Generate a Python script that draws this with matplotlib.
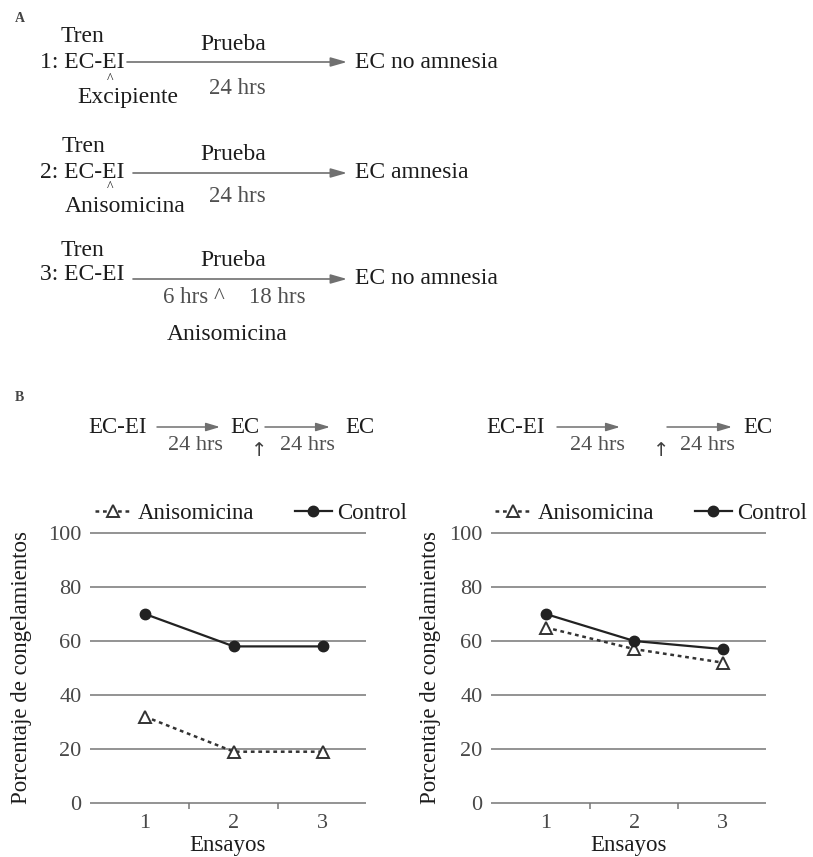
import matplotlib
matplotlib.use('Agg')
import matplotlib.pyplot as plt

W, H = 813, 857
plt.rcParams['font.family'] = ['Liberation Serif', 'DejaVu Serif']

# ---- data ----
trials = [1, 2, 3]
trial_labels = ['1', '2', '3']
y_ticks = [0, 20, 40, 60, 80, 100]
series_names = ['Anisomicina', 'Control']
left_aniso = [32, 19, 19]
left_control = [70, 58, 58]
right_aniso = [65, 57, 52]
right_control = [70, 60, 57]

TXT = '#1c1c1c'
GRAY = '#505050'
ARROW_LINE = '#707070'

fig = plt.figure(figsize=(W / 100, H / 100), dpi=100)


def t(x, y, s, size=17, color=TXT, ha='left', va='center', **kw):
    fig.text(x / W, 1 - y / H, s, fontsize=size, color=color, ha=ha, va=va, **kw)


def arrow(x0, x1, y, hl=0.7, hw=0.2, lw=1.2):
    fig.add_artist(matplotlib.patches.FancyArrowPatch(
        (x0 / W, 1 - y / H), (x1 / W, 1 - y / H), transform=fig.transFigure,
        arrowstyle=f'-|>,head_length={hl},head_width={hw}',
        color=ARROW_LINE, lw=lw, shrinkA=0, shrinkB=0, mutation_scale=14))


# ---- Panel A ----
t(20, 18, 'A', size=10, ha='center', weight='bold', color='#444')
# row 1
t(82, 37, 'Tren', ha='center')
t(40, 62, '1: EC-EI')
arrow(127, 347, 62)
t(233, 45, 'Prueba', ha='center')
t(237, 88, '24 hrs', size=16.5, color=GRAY, ha='center')
t(110, 79, '^', size=10, ha='center')
t(128, 97, 'Excipiente', ha='center')
t(355, 62, 'EC no amnesia')
# row 2
t(83, 147, 'Tren', ha='center')
t(40, 172, '2: EC-EI')
arrow(133, 347, 173)
t(233, 155, 'Prueba', ha='center')
t(237, 197, '24 hrs', size=16.5, color=GRAY, ha='center')
t(110, 188, '^', size=10, ha='center')
t(125, 207, 'Anisomicina', ha='center')
t(355, 173, 'EC amnesia')
# row 3
t(82, 250, 'Tren', ha='center')
t(40, 275, '3: EC-EI')
arrow(133, 347, 279)
t(233, 260, 'Prueba', ha='center')
t(163, 297, '6 hrs ^', size=16.5, color=GRAY)
t(277, 297, '18 hrs', size=16.5, color=GRAY, ha='center')
t(227, 335, 'Anisomicina', ha='center')
t(355, 279, 'EC no amnesia')

# ---- Panel B diagrams ----
t(19, 397, 'B', size=10, ha='center', weight='bold', color='#444')
# left
t(88, 428, 'EC-EI', size=16.5)
arrow(157, 220, 427, hl=0.6, hw=0.18, lw=1.1)
t(230, 428, 'EC', size=16.5)
t(195, 445, '24 hrs', size=16, color=GRAY, ha='center')
t(259, 450, '↑', size=14, color='#404040', ha='center', family='DejaVu Sans')
arrow(265, 330, 427, hl=0.6, hw=0.18, lw=1.1)
t(307, 445, '24 hrs', size=16, color=GRAY, ha='center')
t(345, 428, 'EC', size=16.5)
# right
t(486, 428, 'EC-EI', size=16.5)
arrow(557, 620, 427, hl=0.6, hw=0.18, lw=1.1)
t(597, 445, '24 hrs', size=16, color=GRAY, ha='center')
t(661, 450, '↑', size=14, color='#404040', ha='center', family='DejaVu Sans')
arrow(667, 732, 427, hl=0.6, hw=0.18, lw=1.1)
t(707, 445, '24 hrs', size=16, color=GRAY, ha='center')
t(743, 428, 'EC', size=16.5)

# ---- Line charts ----
Y_TOP, Y_BOT = 533, 803
XLIM = (0.38, 3.49)


def make_plot(x0, x1, aniso, control, ylab_x, leg_x):
    ax = fig.add_axes([x0 / W, 1 - Y_BOT / H, (x1 - x0) / W, (Y_BOT - Y_TOP) / H])
    ax.set_xlim(*XLIM)
    ax.set_ylim(0, 100)
    for s in ax.spines.values():
        s.set_visible(False)
    ax.hlines(y_ticks, XLIM[0], XLIM[1], colors='#8a8a8a', lw=1.3, clip_on=False, zorder=1)
    ax.plot(trials, aniso, ls=(0, (1.5, 1.5)), color='#333333', lw=1.8,
            marker='^', ms=8, mfc='white', mec='#333333', mew=1.4,
            label=series_names[0], clip_on=False, zorder=3)
    ax.plot(trials, control, ls='-', color='#222222', lw=1.6,
            marker='o', ms=7.5, mfc='#222222', mec='#222222',
            label=series_names[1], clip_on=False, zorder=4)
    ax.set_yticks(y_ticks)
    ax.set_yticklabels([str(v) for v in y_ticks])
    ax.tick_params(axis='y', length=0, pad=6, labelsize=16, labelcolor='#484848')
    ax.set_xticks(trials)
    ax.set_xticklabels(trial_labels)
    ax.tick_params(axis='x', which='major', length=0, pad=8, labelsize=16, labelcolor='#484848')
    ax.set_xticks([1.5, 2.5], minor=True)
    ax.tick_params(axis='x', which='minor', length=4, width=1.1, color='#777777', direction='out')
    ax.set_ylabel('Porcentaje de congelamientos', fontsize=16.5, color=TXT, va='center')
    ax.yaxis.set_label_coords((ylab_x - x0) / (x1 - x0), (Y_BOT - 668) / (Y_BOT - Y_TOP))
    ax.set_xlabel('Ensayos', fontsize=16.5, color=TXT, va='center')
    ax.xaxis.set_label_coords(0.5, (Y_BOT - 845) / (Y_BOT - Y_TOP))
    ax.legend(ncol=2, loc='lower left',
              bbox_to_anchor=((leg_x - x0) / (x1 - x0), (Y_BOT - 524) / (Y_BOT - Y_TOP)),
              frameon=False, fontsize=16.5, handlelength=1.6, handletextpad=0.25,
              columnspacing=1.8, borderaxespad=0, borderpad=0, labelcolor=TXT)
    ax.patch.set_alpha(0)
    return ax


make_plot(90, 366, left_aniso, left_control, 22, 95)
make_plot(491, 766, right_aniso, right_control, 430, 495)

fig.savefig('out.png', dpi=100)
